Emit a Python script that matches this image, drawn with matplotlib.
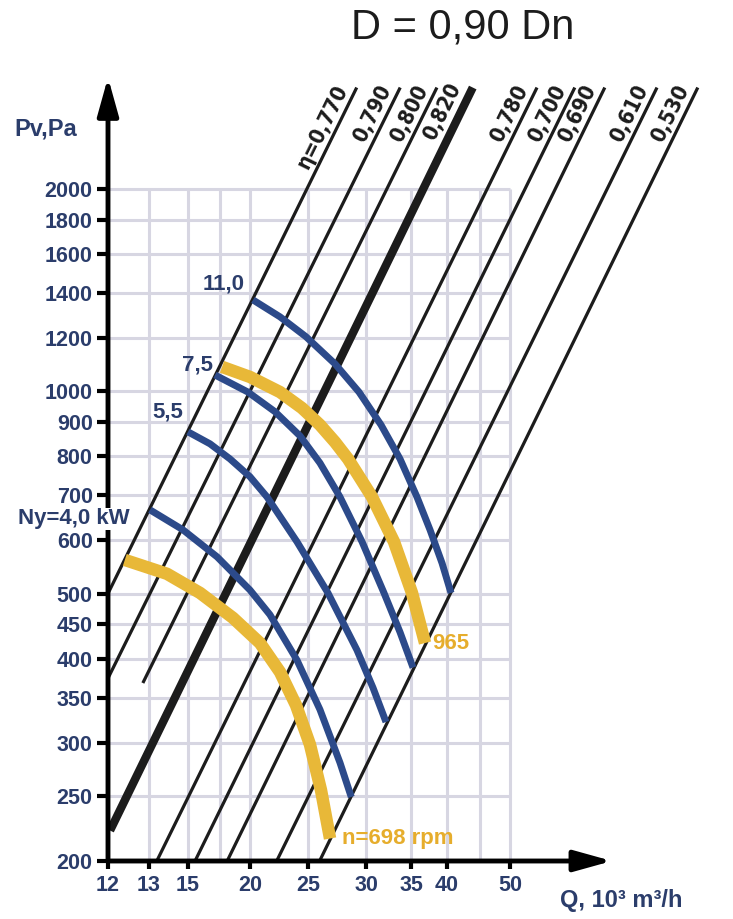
import numpy as np
import matplotlib.pyplot as plt
from matplotlib.ticker import NullLocator

plt.rcParams['font.family'] = ['Liberation Sans', 'DejaVu Sans']
plt.rcParams['font.weight'] = 'bold'

NAVY = '#2b3d6b'
BLUE = '#2c4a8a'
YELLOW = '#e8b838'
YELLOW_TXT = '#e6ad2c'
GRID = '#d7d6e2'
COND = ['DejaVu Sans', 'Liberation Sans']

# axis ticks
Q_TICKS = [12, 13, 15, 20, 25, 30, 35, 40, 50]
Q_GRID = [13, 15, 17.5, 20, 25, 30, 35, 40, 45, 50]
PV_TICKS = [200, 250, 300, 350, 400, 450, 500, 600, 700, 800, 900,
            1000, 1200, 1400, 1600, 1800, 2000]

# the Q axis of the original is not uniform: tick value -> drawn position
SCALE_Q = [12, 13, 15, 17.5, 20, 25, 30, 35, 40, 45, 50]
SCALE_PX = [108, 149, 188, 220, 250, 308, 366, 411, 447, 480, 510]

# efficiency lines (low end, high end)
ETA_LABELS = ['\u03b7=0,770', '0,790', '0,800', '0,820', '0,780',
              '0,700', '0,690', '0,610', '0,530']
ETA_Q_LOW = [12.0, 12.0, 12.85, 12.05, 13.4, 15.55, 18.1, 22.3, 26.0]
ETA_P_LOW = [500, 374, 368, 222, 200, 200, 200, 200, 200]
ETA_Q_HIGH = [29.2, 33.8, 38.6, 43.9, 54.5, 60.8, 65.8, 74.5, 81.3]
ETA_P_HIGH = [2830] * 9

# speed curves (yellow)
N698_Q = [12.41, 13.92, 15.94, 18.58, 20.86, 22.59, 23.97, 25.17, 26.12, 26.9]
N698_P = [561, 535, 501, 460, 422, 382, 341, 298, 255, 216]
N965_Q = [17.67, 20.0, 22.59, 24.48, 26.03, 27.33, 28.45, 30.67, 33.11, 35.14, 36.95]
N965_P = [1087, 1050, 997, 944, 891, 840, 793, 696, 597, 501, 422]

# motor power curves (blue)
KW40_Q = [13.05, 14.74, 17.27, 20.0, 21.72, 24.05, 26.03, 27.76, 28.73]
KW40_P = [666, 622, 567, 506, 465, 398, 336, 280, 249]
KW55_Q = [15.0, 16.72, 18.33, 20.0, 21.47, 24.05, 26.72, 29.22, 30.78, 32.22]
KW55_P = [870, 835, 793, 746, 696, 597, 501, 412, 362, 322]
KW75_Q = [17.11, 19.83, 22.16, 24.31, 26.03, 27.76, 29.66, 32.0, 33.78, 35.28]
KW75_P = [1057, 997, 932, 858, 782, 696, 597, 501, 438, 388]
KW110_Q = [20.26, 22.59, 24.83, 27.33, 29.4, 31.67, 33.78, 35.83, 37.64, 39.31, 40.61]
KW110_P = [1367, 1290, 1205, 1098, 997, 891, 793, 696, 622, 555, 501]


def fwd(q):
    q = np.asarray(q, dtype=float)
    out = np.interp(q, SCALE_Q, SCALE_PX)
    out = np.where(q > SCALE_Q[-1], SCALE_PX[-1] + (q - SCALE_Q[-1]) * 6.0, out)
    out = np.where(q < SCALE_Q[0], SCALE_PX[0] + (q - SCALE_Q[0]) * 41.0, out)
    return out


def inv(x):
    x = np.asarray(x, dtype=float)
    out = np.interp(x, SCALE_PX, SCALE_Q)
    out = np.where(x > SCALE_PX[-1], SCALE_Q[-1] + (x - SCALE_PX[-1]) / 6.0, out)
    out = np.where(x < SCALE_PX[0], SCALE_Q[0] + (x - SCALE_PX[0]) / 41.0, out)
    return out


fig = plt.figure(figsize=(7.33, 9.19), dpi=100)
ax = fig.add_axes([108 / 733, 58 / 919, 612 / 733, 801 / 919])
ax.set_xscale('function', functions=(fwd, inv))
ax.set_yscale('log')
ax.set_xlim(12, 85)
ax.set_ylim(200, 3110)
for s in ax.spines.values():
    s.set_visible(False)

# grid only inside 12..50 / 200..2000
ax.vlines(Q_GRID, 200, 2000, color=GRID, lw=2.2, zorder=0)
ax.hlines(PV_TICKS, 12, 50, color=GRID, lw=2.2, zorder=0)

ax.set_xticks(Q_TICKS)
ax.set_xticklabels([str(v) for v in Q_TICKS])
ax.set_yticks(PV_TICKS)
ax.set_yticklabels([str(v) for v in PV_TICKS])
ax.xaxis.set_minor_locator(NullLocator())
ax.yaxis.set_minor_locator(NullLocator())
ax.tick_params(axis='y', direction='out', length=8, width=3, pad=3,
               labelsize=15.5, labelcolor=NAVY, color='black')
ax.tick_params(axis='x', direction='out', length=6, width=3, pad=4,
               labelsize=15.5, labelcolor=NAVY, color='black')

# efficiency lines
for i, lab in enumerate(ETA_LABELS):
    thick = lab == '0,820'
    ax.plot([ETA_Q_LOW[i], ETA_Q_HIGH[i]], [ETA_P_LOW[i], ETA_P_HIGH[i]],
            color='#1c1c1c', lw=6 if thick else 2.3, solid_capstyle='butt', zorder=2)
    p0 = ax.transData.transform((ETA_Q_LOW[i], ETA_P_LOW[i]))
    p1 = ax.transData.transform((ETA_Q_HIGH[i], ETA_P_HIGH[i]))
    a = np.arctan2(p1[1] - p0[1], p1[0] - p0[0])
    gap = 4.5 if thick else 2.5
    back = 3.5
    dx = -np.sin(a) * gap - np.cos(a) * back
    dy = np.cos(a) * gap - np.sin(a) * back
    ax.annotate(lab, xy=(ETA_Q_HIGH[i], ETA_P_HIGH[i]), xytext=(dx, dy),
                textcoords='offset points', rotation=np.degrees(a), rotation_mode='anchor',
                ha='right', va='bottom', fontsize=15.5, color='#1c1c1c',
                family=COND, fontstretch='condensed', annotation_clip=False)

# curves
for q, p in [(KW40_Q, KW40_P), (KW55_Q, KW55_P), (KW75_Q, KW75_P), (KW110_Q, KW110_P)]:
    ax.plot(q, p, color=BLUE, lw=5, solid_capstyle='butt', solid_joinstyle='round', zorder=3)
for q, p in [(N698_Q, N698_P), (N965_Q, N965_P)]:
    ax.plot(q, p, color=YELLOW, lw=9, solid_capstyle='butt', solid_joinstyle='round', zorder=4)

# curve labels
lbl = dict(textcoords='offset points', fontsize=16, annotation_clip=False)
ax.annotate('11,0', xy=(KW110_Q[0], KW110_P[0]), xytext=(-6, 11.5),
            ha='right', va='center', color=NAVY, **lbl)
ax.annotate('7,5', xy=(KW75_Q[0], KW75_P[0]), xytext=(-1.5, 7),
            ha='right', va='center', color=NAVY, **lbl)
ax.annotate('5,5', xy=(KW55_Q[0], KW55_P[0]), xytext=(-3.5, 14.5),
            ha='right', va='center', color=NAVY, **lbl)
ax.annotate('Ny=4,0 kW', xy=(KW40_Q[0], KW40_P[0]), xytext=(-14.5, -6.5),
            ha='right', va='center', color=NAVY, zorder=10,
            bbox=dict(facecolor='white', edgecolor='none', pad=0.5), **lbl)
ax.annotate('965', xy=(N965_Q[-1], N965_P[-1]), xytext=(5, 0),
            ha='left', va='center', color=YELLOW_TXT, **lbl)
ax.annotate('n=698 rpm', xy=(N698_Q[-1], N698_P[-1]), xytext=(8.5, 0),
            ha='left', va='center', color=YELLOW_TXT, **lbl)

# axes with arrows
arrow = dict(arrowstyle='-|>,head_length=1.15,head_width=0.32', lw=3.5, color='black',
             mutation_scale=20, shrinkA=0, shrinkB=0)
ax.annotate('', xy=(inv(612), 200), xytext=(12, 200), arrowprops=arrow,
            annotation_clip=False, zorder=8)
ax.annotate('', xy=(12, 2930), xytext=(12, 200), arrowprops=arrow,
            annotation_clip=False, zorder=8)

fig.text(14 / 733, 1 - 129 / 919, 'Pv,Pa', ha='left', va='center', fontsize=17, color=NAVY)
fig.text(560 / 733, 1 - 900 / 919, 'Q, 10\u00b3 m\u00b3/h', ha='left', va='center',
         fontsize=17, color=NAVY)
fig.text(463 / 733, 1 - 28 / 919, 'D = 0,90 Dn', ha='center', va='center', fontsize=30,
         fontweight='normal', color='#1c1c1c', family=['Liberation Sans', 'DejaVu Sans'])

fig.savefig('out.png', dpi=100)
